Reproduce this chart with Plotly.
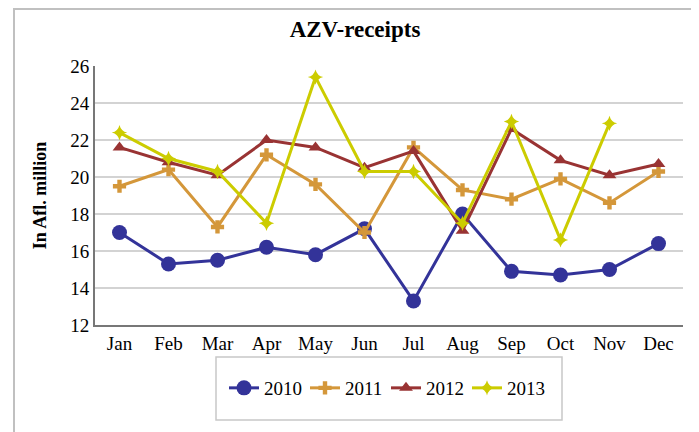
import plotly.graph_objects as go

months = ["Jan", "Feb", "Mar", "Apr", "May", "Jun", "Jul", "Aug", "Sep", "Oct", "Nov", "Dec"]
y2010 = [17.0, 15.3, 15.5, 16.2, 15.8, 17.2, 13.3, 18.0, 14.9, 14.7, 15.0, 16.4]
y2011 = [19.5, 20.4, 17.3, 21.2, 19.6, 17.0, 21.6, 19.3, 18.8, 19.9, 18.6, 20.3]
y2012 = [21.6, 20.8, 20.1, 22.0, 21.6, 20.5, 21.4, 17.1, 22.6, 20.9, 20.1, 20.7]
y2013 = [22.4, 21.0, 20.3, 17.5, 25.4, 20.3, 20.3, 17.5, 23.0, 16.6, 22.9, None]

FONT = "Liberation Serif"

series = [
    ("2010", y2010, "#333399", "circle", 15),
    ("2011", y2011, "#D4973A", "cross", 11),
    ("2012", y2012, "#993333", "triangle-up", 12),
    ("2013", y2013, "#CCCC00", "star-diamond", 11),
]

fig = go.Figure()
for name, ys, col, sym, sz in series:
    fig.add_trace(go.Scatter(
        x=months, y=ys, name=name, mode="lines+markers",
        line=dict(color=col, width=3),
        marker=dict(symbol=sym, size=sz, color=col),
    ))

OFF = 8  # page body margin
W, H = 699 - OFF, 432 - OFF
L, R, T, B = 95 - OFF, 683 - OFF, 66 - OFF, 325 - OFF
pw, ph = R - L, B - T

def px(x):
    return (x - OFF - L) / pw

def py(y):
    return (B - (y - OFF)) / ph

fig.update_layout(
    width=W, height=H,
    margin=dict(l=L, r=W - R, t=T, b=H - B, autoexpand=False),
    paper_bgcolor="white", plot_bgcolor="white",
    font=dict(family=FONT, size=19, color="black"),
    title=dict(text="<b>AZV-receipts</b>", x=(355 - OFF) / W, xanchor="center",
               y=1 - (29 - OFF) / H, yanchor="middle", font=dict(size=23, family=FONT)),
    showlegend=True,
    legend=dict(orientation="h", x=px(386), xanchor="center", y=py(388), yanchor="middle",
                bgcolor="rgba(0,0,0,0)", borderwidth=0, font=dict(size=19, family=FONT),
                itemwidth=30, entrywidth=36, entrywidthmode="pixels"),
    xaxis=dict(showline=True, linecolor="#777777", linewidth=2, showgrid=False,
               ticks="", tickfont=dict(size=19, family=FONT), range=[-0.5, 11.5], automargin=False),
    yaxis=dict(range=[12, 26], dtick=2, tick0=12, showline=True, linecolor="#777777", linewidth=2,
               showgrid=True, gridcolor="#D3D3D3", gridwidth=1.5, ticks="", zeroline=False,
               tickfont=dict(size=19, family=FONT), automargin=False,
               title=dict(text="<b>In Afl. million</b>", font=dict(size=18, family=FONT), standoff=19)),
    shapes=[
        dict(type="rect", xref="paper", yref="paper", x0=px(14), x1=px(695), y0=py(445), y1=py(9),
             line=dict(color="#C0C0C0", width=2), layer="below"),
        dict(type="rect", xref="paper", yref="paper", x0=px(216), x1=px(562), y0=py(420), y1=py(357),
             line=dict(color="#C8C8C8", width=1.5), layer="below"),
    ],
)

fig.write_html("out.html")
